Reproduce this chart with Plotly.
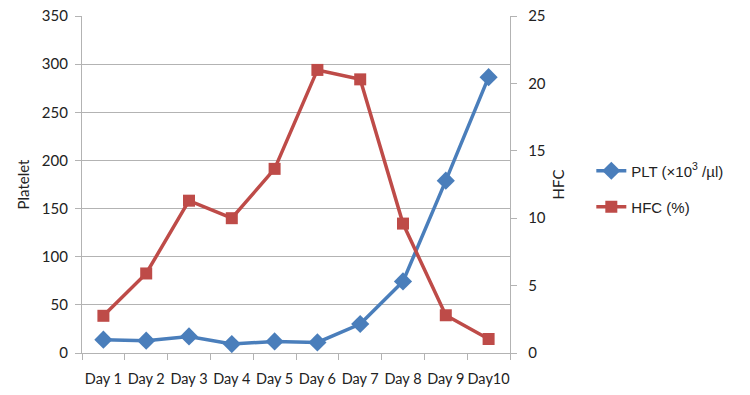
import plotly.graph_objects as go

days = ["Day 1", "Day 2", "Day 3", "Day 4", "Day 5", "Day 6", "Day 7", "Day 8", "Day 9", "Day10"]
plt_values = [13.8, 12.8, 17.2, 9.3, 12.0, 11.0, 30.1, 74.3, 179, 286.5]
hfc_values = [2.76, 5.9, 11.3, 10.0, 13.66, 21.0, 20.3, 9.6, 2.8, 1.04]

blue = "#4a7ebb"
red = "#be4b48"
grid = "#b3b3b3"
tick_font = dict(family="Lato, Open Sans, sans-serif", size=15, color="#222222")

fig = go.Figure()
fig.add_trace(go.Scatter(
    x=days, y=plt_values, name="PLT (×10<sup>3</sup> /µl)", mode="lines+markers",
    line=dict(color=blue, width=3.5), marker=dict(symbol="diamond", size=14, color=blue),
    yaxis="y", legend="legend", showlegend=True))
fig.add_trace(go.Scatter(
    x=days, y=hfc_values, name="HFC (%)", mode="lines+markers",
    line=dict(color=red, width=3.5), marker=dict(symbol="square", size=12, color=red),
    yaxis="y2", legend="legend2", showlegend=True))

fig.update_layout(
    width=750, height=395, showlegend=True,
    margin=dict(l=81.5, r=240.3, t=16, b=41.7, autoexpand=False),
    paper_bgcolor="white", plot_bgcolor="white",
    xaxis=dict(type="category", showgrid=False, showline=True, linecolor=grid, linewidth=1.3,
               ticks="outside", tickson="boundaries", ticklen=6, tickcolor=grid,
               tickfont=dict(family="Lato, Open Sans, sans-serif", size=14.5, color="#222222"),
               tickangle=0, automargin=False, range=[-0.5, 9.5], ticklabelstandoff=12),
    yaxis=dict(range=[0, 350], dtick=50, showgrid=True, gridcolor=grid, gridwidth=1.3,
               showline=True, linecolor=grid, linewidth=1.3, ticks="outside", ticklen=6,
               tickcolor=grid, tickfont=tick_font, zeroline=False, automargin=False,
               ticklabelstandoff=4,
               title=dict(text="Platelet", font=dict(family="Lato, sans-serif", size=15, color="#222222"), standoff=8)),
    yaxis2=dict(range=[0, 25], dtick=5, overlaying="y", side="right", showgrid=False,
                showline=True, linecolor=grid, linewidth=1.3, ticks="outside", ticklen=6,
                tickcolor=grid, tickfont=tick_font, zeroline=False, automargin=False,
                ticklabelstandoff=8,
                title=dict(text="HFC", font=dict(family="Lato, sans-serif", size=15, color="#222222"), standoff=8)),
    legend=dict(x=1.19, y=0.54, xanchor="left", yanchor="middle", visible=True,
                font=dict(family="Liberation Sans, Arial, sans-serif", size=15, color="#222222"),
                bgcolor="rgba(0,0,0,0)"),
    legend2=dict(x=1.19, y=0.433, xanchor="left", yanchor="middle", visible=True,
                 font=dict(family="Liberation Sans, Arial, sans-serif", size=15, color="#222222"),
                 bgcolor="rgba(0,0,0,0)"),
)

fig.write_html("out.html")
